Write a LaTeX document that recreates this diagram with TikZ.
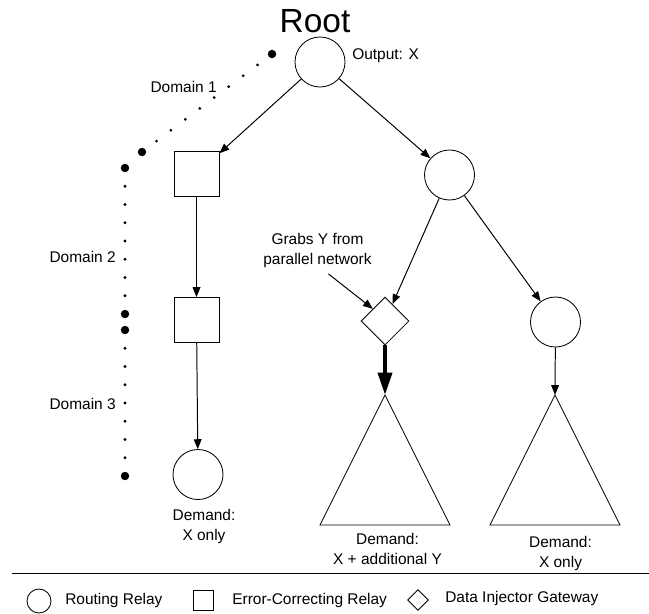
\documentclass[tikz,border=0pt]{standalone}
\usepackage{fontspec}
\setmainfont{Liberation Sans}
\usetikzlibrary{shapes.geometric, positioning, arrows.meta, calc}
\tikzset{
  relay/.style={circle, draw=black, line width=0.6pt, minimum size=1.25cm, inner sep=0pt},
  fixer/.style={rectangle, draw=black, line width=0.6pt, minimum size=1.125cm, inner sep=0pt},
  injector/.style={diamond, draw=black, line width=0.6pt, minimum width=1.2cm, minimum height=1.2cm, inner sep=0pt},
  subtree/.style={draw=black, line width=0.6pt, line join=miter},
  arrow/.style={line width=0.7pt, -{Triangle[length=7pt, width=5.5pt]}},
  bigarrow/.style={line width=2.8pt, -{Triangle[length=16pt, width=10pt]}},
  note/.style={inner sep=0pt, align=center, font=\fontsize{11}{14.2}\selectfont},
  bigdot/.style={fill=black},
  smalldot/.style={fill=black}
}

\begin{document}
\begin{tikzpicture}[x=0.025cm, y=-0.025cm]
    \useasboundingbox (0,0) rectangle (649,613);

    \node (roottitle) [anchor=base, inner sep=0pt, font=\fontsize{23.8}{26}\selectfont] at (315,32) {Root};

    \node (root) [relay] at (320,62) {};
    \node (output) [note, anchor=base west] at (352,59) {Output: X};

    \node (fix1) [fixer] at (196.5,174) {};
    \node (fix2) [fixer] at (196.5,320) {};
    \node (leaf1) [relay] at (198,474.5) {};
    \node (demand1) [note, anchor=north] at (204,509) {Demand:\\ X only};

    \node (mid) [relay] at (449.5,175) {};
    \node (inj) [injector] at (385,321) {};
    \node (mid2) [relay] at (555.5,322) {};

    \node (grabs) [note, anchor=north] at (317.5,233) {Grabs Y from\\ parallel network};

    % Subtrees
    \coordinate (t1top) at (385,395);
    \coordinate (t2top) at (555,395);
    \draw [subtree] (t1top) -- (320,525) -- (450,525) -- cycle;
    \draw [subtree] (t2top) -- (490,525) -- (620,525) -- cycle;
    \node (demand2) [note, anchor=north] at (387.5,533) {Demand:\\ X + additional Y};
    \node (demand3) [note, anchor=north] at (560.5,536) {Demand:\\ X only};

    % Arrows
    \draw [arrow] (root) -- (fix1);
    \draw [arrow] (root) -- (mid);
    \draw [arrow] (fix1) -- (fix2);
    \draw [arrow] (fix2) -- (leaf1);
    \draw [arrow] (mid) -- (inj);
    \draw [arrow] (mid) -- (mid2);
    \draw [arrow] ($(grabs.south)+(11,6)$) -- (inj.north west);
    \draw [bigarrow] (inj) -- (t1top);
    \draw [arrow] (mid2) -- (t2top);

    % Domains
    \foreach \p in {(272,54), (142,152), (125,168), (125,314), (125,330), (125,476)}
        \fill [bigdot] \p circle (3pt);
    \foreach \i in {1,...,8}
        \fill [smalldot] ({272-\i*130/9},{54+\i*98/9}) circle (1.1pt);
    \foreach \i in {1,...,7}{
        \fill [smalldot] (125,{168+\i*146/8}) circle (1.1pt);
        \fill [smalldot] (125,{330+\i*146/8}) circle (1.1pt);
    }
    \node (dom1) [note, anchor=base east] at (217,92) {Domain 1};
    \node (dom2) [note, anchor=base east] at (116,262) {Domain 2};
    \node (dom3) [note, anchor=base east] at (116,409) {Domain 3};

    % Legend
    \draw [line width=0.7pt] (12,573.5) -- (649,573.5);
    \node (lrelay) [relay, minimum size=0.6cm] at (39,601) {};
    \node (lrelaytext) [note, anchor=base west] at (65,604) {Routing Relay};
    \node (lfixer) [fixer, minimum size=0.5cm] at (203,600) {};
    \node (lfixertext) [note, anchor=base west] at (232,604) {Error-Correcting Relay};
    \node (linj) [injector, minimum width=0.52cm, minimum height=0.52cm] at (418,600) {};
    \node (linjtext) [note, anchor=base west] at (445,602) {Data Injector Gateway};

\end{tikzpicture}
\end{document}
